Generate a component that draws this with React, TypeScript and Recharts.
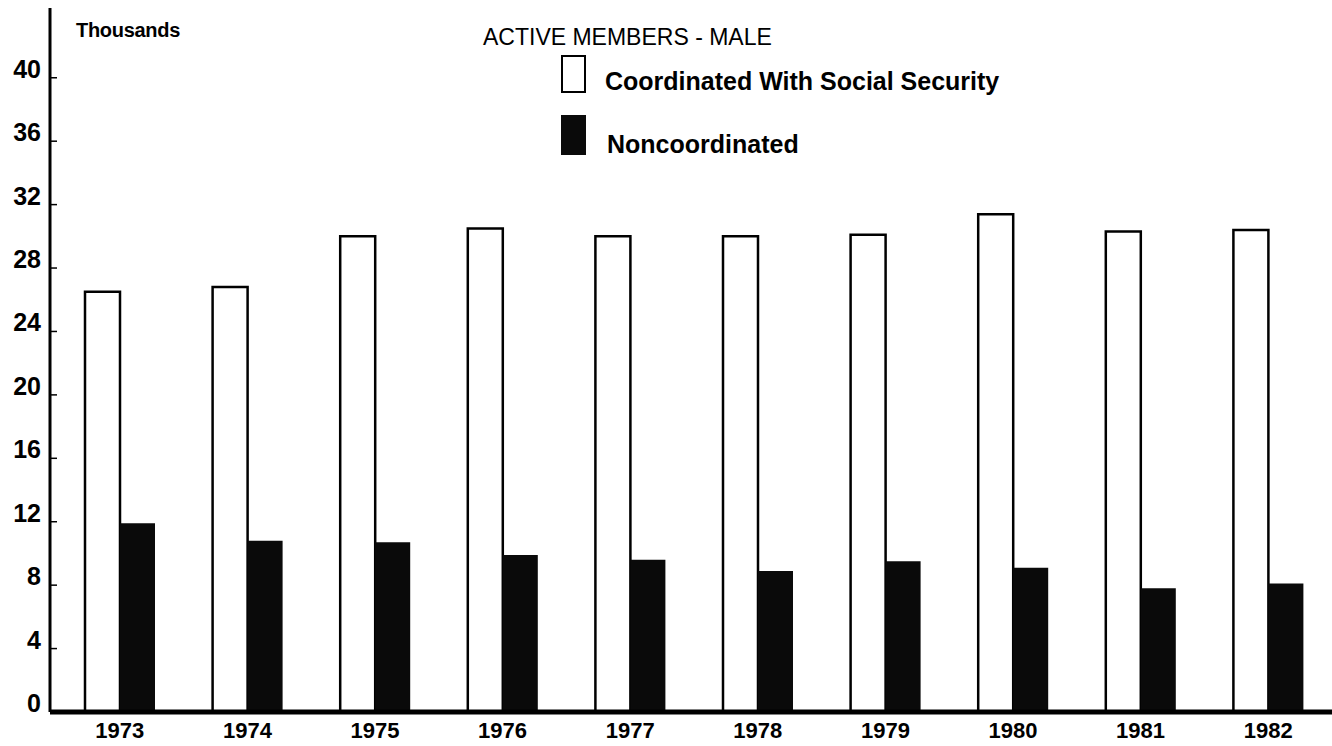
import { BarChart, Bar, XAxis, YAxis } from 'recharts';

const years = ['1973', '1974', '1975', '1976', '1977', '1978', '1979', '1980', '1981', '1982'];
const coordinated = [26.5, 26.8, 30.0, 30.5, 30.0, 30.0, 30.1, 31.4, 30.3, 30.4];
const noncoordinated = [11.9, 10.8, 10.7, 9.9, 9.6, 8.9, 9.5, 9.1, 7.8, 8.1];
const yTicks = [0, 4, 8, 12, 16, 20, 24, 28, 32, 36, 40];

const data = years.map((year, i) => ({
  year,
  coordinated: coordinated[i],
  noncoordinated: noncoordinated[i],
}));

const FONT = '"Liberation Sans", Arial, sans-serif';

const YTick = (props: any) => {
  const { x, y, payload } = props;
  const axisX = x + 12;
  return (
    <g>
      <line x1={axisX} x2={axisX + 7} y1={y} y2={y} stroke="#000" strokeWidth={1.5} />
      <text x={axisX - 9} y={y} textAnchor="end" fontFamily={FONT} fontWeight="bold" fontSize={25} fill="#000">
        {payload.value}
      </text>
    </g>
  );
};

const XTick = (props: any) => {
  const { x, y, payload } = props;
  return (
    <text x={x} y={y + 18} textAnchor="middle" fontFamily={FONT} fontWeight="bold" fontSize={22} fill="#000">
      {payload.value}
    </text>
  );
};

const App = () => {
  return (
    <div style={{ position: 'absolute', left: 0, top: 0, width: 1332, height: 746, background: '#fff' }}>
      <BarChart
        width={1332}
        height={746}
        data={data}
        margin={{ top: 8, right: 0, bottom: 0, left: 0 }}
        barGap={0}
        barSize={35}
      >
        <XAxis
          dataKey="year"
          height={34}
          padding={{ left: 6, right: 0 }}
          axisLine={{ stroke: '#000', strokeWidth: 5 }}
          tickLine={false}
          tick={<XTick />}
          interval={0}
        />
        <YAxis
          domain={[0, 44.4]}
          ticks={yTicks}
          width={50}
          tickSize={0}
          tickMargin={12}
          axisLine={{ stroke: '#000', strokeWidth: 3 }}
          tickLine={false}
          tick={<YTick />}
        />
        <Bar dataKey="coordinated" fill="#fff" stroke="#000" strokeWidth={2.5} isAnimationActive={false} />
        <Bar dataKey="noncoordinated" fill="#0a0a0a" isAnimationActive={false} />
      </BarChart>

      <div style={{ position: 'absolute', left: 76, top: 19, fontFamily: FONT, fontWeight: 'bold', fontSize: 20, letterSpacing: -0.3, lineHeight: 'normal' }}>
        Thousands
      </div>
      <div style={{ position: 'absolute', left: 483, top: 24, fontFamily: FONT, fontSize: 23, lineHeight: 'normal' }}>
        ACTIVE MEMBERS - MALE
      </div>
      <div style={{ position: 'absolute', left: 561, top: 55, width: 21, height: 34, border: '2px solid #000', background: '#fff' }} />
      <div style={{ position: 'absolute', left: 605, top: 67, fontFamily: FONT, fontWeight: 'bold', fontSize: 25, lineHeight: 'normal' }}>
        Coordinated With Social Security
      </div>
      <div style={{ position: 'absolute', left: 561, top: 115, width: 25, height: 40, background: '#0a0a0a' }} />
      <div style={{ position: 'absolute', left: 607, top: 130, fontFamily: FONT, fontWeight: 'bold', fontSize: 25, lineHeight: 'normal' }}>
        Noncoordinated
      </div>
    </div>
  );
};

export default App;
